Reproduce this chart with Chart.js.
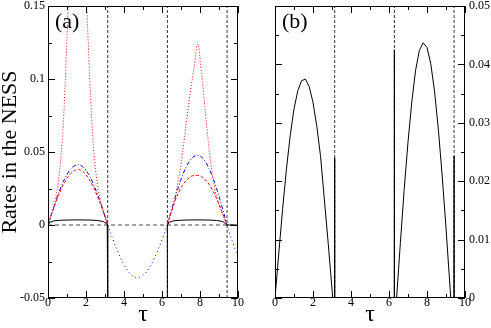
<!DOCTYPE html>
<html lang="en">
<head>
<meta charset="UTF-8">
<title>Rates in the NESS</title>
<script src="https://cdn.jsdelivr.net/npm/chart.js"></script>
<style>
  body { margin: 0; background: #fff; }
  #wrap { position: relative; width: 491px; height: 328px; }
  canvas { position: absolute; top: 0; }
  #chartA { left: 0; }
  #chartB { left: 250px; }
</style>
</head>
<body>
<div id="wrap">
  <canvas id="chartA" width="250" height="328"></canvas>
  <canvas id="chartB" width="241" height="328"></canvas>
</div>
<script>
// ---- panel (a) ----
const tauA1 = [0, 0.2, 0.4, 0.6, 0.8, 1.0, 1.2, 1.4, 1.6, 1.8, 2.0, 2.2, 2.4, 2.6, 2.8, 3.0, 3.1416];
const blueA1 = [0, 0.0082, 0.016, 0.0233, 0.0296, 0.0347, 0.0385, 0.0406, 0.0413, 0.0402, 0.0375, 0.0333, 0.0278, 0.0212, 0.0138, 0.0058, 0];
const redDashA1 = [0, 0.0078, 0.0152, 0.0218, 0.0274, 0.032, 0.0353, 0.0373, 0.038, 0.037, 0.0345, 0.0307, 0.0257, 0.0198, 0.013, 0.0056, 0];
const redDotA1 = [0, 0.0084, 0.018, 0.036, 0.068, 0.128, 0.2, 0.26, 0.27, 0.24, 0.165, 0.1, 0.052, 0.028, 0.015, 0.006, 0];

const tauA2 = [6.2832, 6.48, 6.68, 6.88, 7.08, 7.28, 7.48, 7.68, 7.88, 8.08, 8.28, 8.48, 8.68, 8.88, 9.08, 9.28, 9.4248];
const blueA2 = [0, 0.0092, 0.0182, 0.0266, 0.034, 0.04, 0.0443, 0.0469, 0.0477, 0.0466, 0.0435, 0.0386, 0.0323, 0.0247, 0.0161, 0.0068, 0];
const redDashA2 = [0, 0.0085, 0.0163, 0.0225, 0.0272, 0.0306, 0.0329, 0.0339, 0.034, 0.0331, 0.031, 0.0278, 0.0234, 0.018, 0.0118, 0.005, 0];
const redDotA2 = [0, 0.009, 0.019, 0.032, 0.049, 0.07, 0.09, 0.107, 0.124, 0.104, 0.078, 0.052, 0.032, 0.019, 0.011, 0.0045, 0];

const tauNeg = [3.1416, 3.4, 3.6, 3.8, 4.0, 4.2, 4.4, 4.6, 4.8, 5.0, 5.2, 5.4, 5.6, 5.8, 6.0, 6.2832, null, 9.4248, 9.6, 9.8, 10.0];
const blueNeg = [0, -0.0092, -0.0159, -0.022, -0.0272, -0.0314, -0.0343, -0.0358, -0.0359, -0.0345, -0.0318, -0.0278, -0.0227, -0.0167, -0.0101, 0, null, 0, -0.0072, -0.015, -0.0218];

const tauBlackA = [0, 0.1, 0.3, 0.6, 1.0, 1.6, 2.2, 2.6, 2.9, 3.05, 3.12, 3.1416, 3.1416, 4.71, 6.2832, 6.2832, 6.38, 6.58, 6.88, 7.28, 7.88, 8.48, 8.88, 9.18, 9.33, 9.4248, 10];
const blackA = [0, 0.0018, 0.0028, 0.0032, 0.0034, 0.0035, 0.0034, 0.0031, 0.0024, 0.0012, 0.0002, -0.002, -0.06, null, -0.06, 0, 0.0018, 0.0028, 0.0032, 0.0034, 0.0035, 0.0034, 0.0031, 0.0024, 0.0012, 0, 0];

// ---- panel (b) ----
const tauB = [0, 0.2, 0.4, 0.6, 0.8, 1.0, 1.2, 1.4, 1.6, 1.8, 2.0, 2.2, 2.4, 2.6, 2.8, 3.04, 3.1416, 3.1416, 3.1416,
  6.2832, 6.2832, 6.2832, 6.4, 6.6, 6.8, 7.0, 7.2, 7.4, 7.6, 7.8, 8.0, 8.2, 8.4, 8.6, 8.8, 9.0, 9.25, 9.4248, 9.4248, 9.4248, 10];
const rateB = [0, 0.0077, 0.0152, 0.022, 0.0278, 0.0324, 0.0355, 0.0372, 0.0375, 0.0362, 0.0335, 0.0294, 0.0242, 0.0168, 0.0094, 0, 0, 0.024, 0,
  0, 0.0425, 0, 0, 0.0095, 0.0186, 0.0267, 0.0336, 0.039, 0.0424, 0.0437, 0.0429, 0.0401, 0.0353, 0.0288, 0.0209, 0.012, 0, 0, 0.0243, 0, 0];

// guides and ticks
const guideTau = [3.1416, 6.2832, 9.4248];
const xMajor = [0, 2, 4, 6, 8, 10];
const xLabels = ['0', '2', '4', '6', '8', '10'];
const xMinor = [1, 3, 5, 7, 9];
const yMajorA = [-0.05, 0, 0.05, 0.1, 0.15];
const yLabelsA = ['-0.05', '0', '0.05', '0.1', '0.15'];
const yMinorA = [-0.025, 0.025, 0.075, 0.125];
const yMajorB = [0, 0.01, 0.02, 0.03, 0.04, 0.05];
const yLabelsB = ['0', '0.01', '0.02', '0.03', '0.04', '0.05'];
const yMinorB = [0.005, 0.015, 0.025, 0.035, 0.045];

Chart.defaults.font.family = '"Liberation Serif", "DejaVu Serif", serif';
Chart.defaults.color = '#000';

const pts = (xs, ys) => xs.map((x, i) => ({ x: x, y: ys[i] }));

function vGuides(lo, hi) {
  const out = [];
  guideTau.forEach(t => { out.push({ x: t, y: lo }, { x: t, y: hi }, { x: t, y: null }); });
  return out;
}

function line(data, color, dash, smooth) {
  return {
    data: data, showLine: true, borderColor: color, borderWidth: 1,
    borderDash: dash, pointRadius: 0, fill: false, spanGaps: false,
    tension: smooth ? 0.4 : 0,
    cubicInterpolationMode: smooth ? 'monotone' : 'default'
  };
}

// frame + inward ticks + panel letter
const frameTicks = {
  id: 'frameTicks',
  afterDraw(chart, args, opts) {
    const { ctx, chartArea: a, scales: { x, y } } = chart;
    ctx.save();
    ctx.strokeStyle = '#000';
    ctx.lineWidth = 1;
    ctx.beginPath();
    const xt = [...xMajor.map(v => [v, 7]), ...xMinor.map(v => [v, 4])];
    xt.forEach(([v, len]) => {
      const px = Math.round(x.getPixelForValue(v)) + 0.5;
      ctx.moveTo(px, a.bottom); ctx.lineTo(px, a.bottom - len);
      ctx.moveTo(px, a.top); ctx.lineTo(px, a.top + len);
    });
    const yt = [...opts.yMajor.map(v => [v, 7]), ...opts.yMinor.map(v => [v, 4])];
    yt.forEach(([v, len]) => {
      const py = Math.round(y.getPixelForValue(v)) + 0.5;
      ctx.moveTo(a.left, py); ctx.lineTo(a.left + len, py);
      ctx.moveTo(a.right, py); ctx.lineTo(a.right - len, py);
    });
    ctx.stroke();
    ctx.strokeRect(a.left + 0.5, a.top + 0.5, a.right - a.left - 1, a.bottom - a.top - 1);
    ctx.fillStyle = '#000';
    ctx.font = '22px "Liberation Serif"';
    ctx.textBaseline = 'alphabetic';
    ctx.fillText(opts.label, a.left + 7, a.top + 22);
    ctx.restore();
  }
};

function xAxis() {
  return {
    type: 'linear', min: 0, max: 10,
    afterBuildTicks: s => { s.ticks = xMajor.map(v => ({ value: v })); },
    ticks: { callback: (v, i) => xLabels[i], font: { size: 12 }, padding: -2, maxRotation: 0 },
    grid: { display: false, drawTicks: false }, border: { display: false },
    title: { display: true, text: 'τ', font: { size: 24, lineHeight: 1 }, padding: { top: 0, bottom: 1 } },
    afterFit: s => { s.height = 30; s.paddingLeft = 0; s.paddingRight = 0; }
  };
}

new Chart(document.getElementById('chartA'), {
  type: 'scatter',
  data: {
    datasets: [
      line(pts(tauBlackA, blackA), '#000', [], false),
      line(pts(tauA1, redDotA1), '#ff0000', [1, 2], true),
      line(pts(tauA2, redDotA2), '#ff0000', [1, 2], true),
      line(pts(tauA1, redDashA1), '#ff0000', [3, 2], true),
      line(pts(tauA2, redDashA2), '#ff0000', [3, 2], true),
      line(pts(tauA1, blueA1), '#0000ff', [4, 2, 1, 2], true),
      line(pts(tauA2, blueA2), '#0000ff', [4, 2, 1, 2], true),
      line(pts(tauNeg, blueNeg), '#0000ff', [1, 3], true),
      line(vGuides(-0.05, 0.15), '#333', [3, 2], false),
      line([{ x: 0, y: 0 }, { x: 10, y: 0 }], '#444', [4, 3], false)
    ]
  },
  options: {
    responsive: false, animation: false,
    layout: { padding: { top: 6, left: 0, right: 12, bottom: 0 } },
    plugins: {
      legend: { display: false }, tooltip: { enabled: false },
      frameTicks: { label: '(a)', yMajor: yMajorA, yMinor: yMinorA }
    },
    scales: {
      x: xAxis(),
      y: {
        type: 'linear', min: -0.05, max: 0.15, position: 'left',
        afterBuildTicks: s => { s.ticks = yMajorA.map(v => ({ value: v })); },
        ticks: { callback: (v, i) => yLabelsA[i], font: { size: 12 }, padding: 3 },
        grid: { display: false, drawTicks: false }, border: { display: false },
        title: { display: true, text: 'Rates in the NESS', font: { size: 22, lineHeight: 0.9 }, padding: { top: 0, bottom: 0 } },
        afterFit: s => { s.width = 48; s.paddingTop = 0; s.paddingBottom = 0; }
      }
    }
  },
  plugins: [frameTicks]
});

new Chart(document.getElementById('chartB'), {
  type: 'scatter',
  data: {
    datasets: [
      line(pts(tauB, rateB), '#000', [], false),
      line(vGuides(0, 0.05), '#333', [3, 2], false)
    ]
  },
  options: {
    responsive: false, animation: false,
    layout: { padding: { top: 6, left: 25, right: 0, bottom: 0 } },
    plugins: {
      legend: { display: false }, tooltip: { enabled: false },
      frameTicks: { label: '(b)', yMajor: yMajorB, yMinor: yMinorB }
    },
    scales: {
      x: xAxis(),
      y: {
        type: 'linear', min: 0, max: 0.05, position: 'right',
        afterBuildTicks: s => { s.ticks = yMajorB.map(v => ({ value: v })); },
        ticks: { callback: (v, i) => yLabelsB[i], font: { size: 12 }, padding: 4 },
        grid: { display: false, drawTicks: false }, border: { display: false },
        afterFit: s => { s.width = 26; s.paddingTop = 0; s.paddingBottom = 0; }
      }
    }
  },
  plugins: [frameTicks]
});
</script>
</body>
</html>
